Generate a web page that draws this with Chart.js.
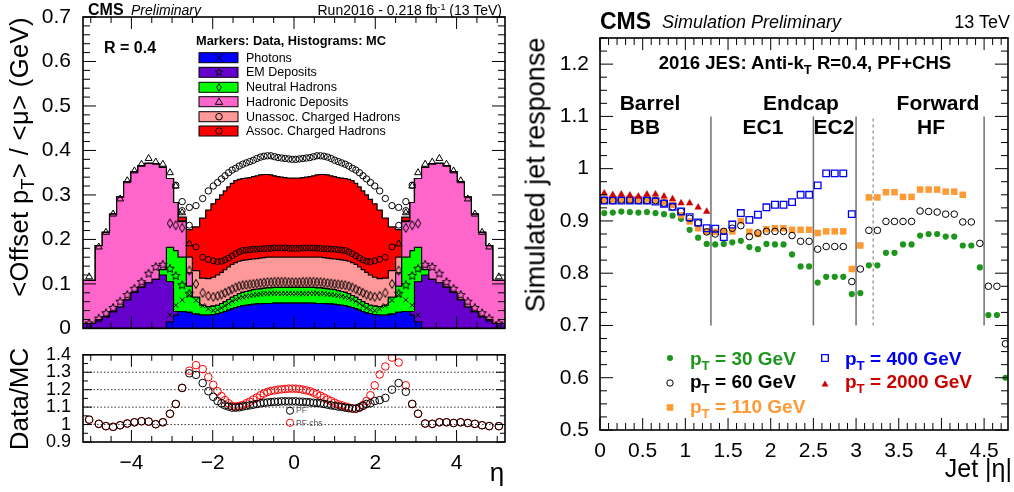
<!DOCTYPE html>
<html>
<head>
<meta charset="utf-8">
<script src="https://cdn.jsdelivr.net/npm/chart.js@4.4.1/dist/chart.umd.min.js"></script>
<style>
body { margin:0; width:1014px; height:492px; position:relative; overflow:hidden; background:#fff;
       font-family:"Liberation Sans", Arial, Helvetica, sans-serif; }
canvas { position:absolute; }
.t { position:absolute; white-space:nowrap; line-height:1; color:#000; }
.c { transform:translateX(-50%); }
.rot { transform:translate(-50%,-50%) rotate(-90deg); }
sub { font-size:0.7em; vertical-align:-0.35em; line-height:0; }
sup { font-size:0.65em; vertical-align:0.55em; line-height:0; }
b { font-weight:bold; }
</style>
</head>
<body>
<canvas id="cOffset" width="520" height="345" style="left:0;top:0"></canvas>
<canvas id="cRatio" width="520" height="152" style="left:0;top:340px"></canvas>
<canvas id="cResp" width="494" height="492" style="left:520px;top:0"></canvas>

<!-- left panel texts -->
<div class="t" style="left:88px;top:1.5px;font-size:16px;font-weight:bold">CMS</div>
<div class="t" style="left:131px;top:3.2px;font-size:14px;font-style:italic">Preliminary</div>
<div class="t" style="right:512px;top:3.2px;font-size:14px">Run2016 - 0.218 fb<sup>-1</sup> (13 TeV)</div>
<div class="t" style="left:104px;top:39.5px;font-size:16px;font-weight:bold">R = 0.4</div>
<div class="t" style="left:196px;top:35.2px;font-size:12.8px;font-weight:bold">Markers: Data, Histograms: MC</div>
<div class="t" style="left:246px;top:51.6px;font-size:12.5px">Photons</div>
<div class="t" style="left:246px;top:66.2px;font-size:12.5px">EM Deposits</div>
<div class="t" style="left:246px;top:81.2px;font-size:12.5px">Neutral Hadrons</div>
<div class="t" style="left:246px;top:95.6px;font-size:12.5px">Hadronic Deposits</div>
<div class="t" style="left:246px;top:110.6px;font-size:12.5px">Unassoc. Charged Hadrons</div>
<div class="t" style="left:246px;top:124.9px;font-size:12.5px">Assoc. Charged Hadrons</div>
<div class="t rot" style="left:20px;top:157px;font-size:25.5px;letter-spacing:0.4px">&lt;Offset p<sub>T</sub>&gt; / &lt;&mu;&gt; (GeV)</div>
<div class="t rot" style="left:19px;top:399px;font-size:26px">Data/MC</div>
<div class="t c" style="left:497px;top:459px;font-size:26px">&eta;</div>
<div class="t" style="left:296px;top:405.8px;font-size:8.5px;color:#555">PF</div>
<div class="t" style="left:296px;top:418.8px;font-size:8.5px;color:#555">PF chs</div>

<!-- right panel texts -->
<div class="t" style="left:600px;top:9.5px;font-size:23px;font-weight:bold">CMS</div>
<div class="t" style="left:662px;top:13.3px;font-size:18px;font-style:italic">Simulation Preliminary</div>
<div class="t" style="right:4px;top:13.3px;font-size:18px">13 TeV</div>
<div class="t c" style="left:805px;top:54.3px;font-size:18.6px;font-weight:bold">2016 JES: Anti-k<sub>T</sub> R=0.4, PF+CHS</div>
<div class="t c" style="left:650px;top:92.2px;font-size:21px;font-weight:bold">Barrel</div>
<div class="t c" style="left:801px;top:92.2px;font-size:21px;font-weight:bold">Endcap</div>
<div class="t c" style="left:938px;top:92.2px;font-size:21px;font-weight:bold">Forward</div>
<div class="t c" style="left:645px;top:116.2px;font-size:21px;font-weight:bold">BB</div>
<div class="t c" style="left:763px;top:116.2px;font-size:21px;font-weight:bold">EC1</div>
<div class="t c" style="left:834px;top:116.2px;font-size:21px;font-weight:bold">EC2</div>
<div class="t c" style="left:931px;top:116.2px;font-size:21px;font-weight:bold">HF</div>
<div class="t rot" style="left:535.6px;top:175px;font-size:27px">Simulated jet response</div>
<div class="t" style="right:2px;top:455.8px;font-size:25px">Jet |&eta;|</div>
<div class="t" style="left:690px;top:348.9px;font-size:19px;font-weight:bold;color:#1e961e">p<sub>T</sub> = 30 GeV</div>
<div class="t" style="left:690px;top:372.2px;font-size:19px;font-weight:bold;color:#000">p<sub>T</sub> = 60 GeV</div>
<div class="t" style="left:690px;top:397.2px;font-size:19px;font-weight:bold;color:#ff9933">p<sub>T</sub> = 110 GeV</div>
<div class="t" style="left:845px;top:348.9px;font-size:19px;font-weight:bold;color:#0000f0">p<sub>T</sub> = 400 GeV</div>
<div class="t" style="left:845px;top:372.2px;font-size:19px;font-weight:bold;color:#cc0000">p<sub>T</sub> = 2000 GeV</div>

<script>
// ---- eta binning (calorimeter towers) ----
const etaEdges = [-5.191,-4.889,-4.716,-4.538,-4.363,-4.191,-4.013,-3.839,-3.664,-3.489,-3.314,-3.139,-2.964,-2.853,-2.65,-2.5,-2.322,-2.172,-2.043,-1.93,-1.83,-1.74,-1.653,-1.566,-1.479,-1.392,-1.305,-1.218,-1.131,-1.044,-0.957,-0.87,-0.783,-0.696,-0.609,-0.522,-0.435,-0.348,-0.261,-0.174,-0.087,0,
  0.087,0.174,0.261,0.348,0.435,0.522,0.609,0.696,0.783,0.87,0.957,1.044,1.131,1.218,1.305,1.392,1.479,1.566,1.653,1.74,1.83,1.93,2.043,2.172,2.322,2.5,2.65,2.853,2.964,3.139,3.314,3.489,3.664,3.839,4.013,4.191,4.363,4.538,4.716,4.889,5.191];

// ---- MC offset per component (GeV), one value per eta bin ----
const mcPhotons = [0,0,0,0,0,0,0,0,0,0,0,.015,.030,.038,.036,.032,.030,.030,.031,.033,.035,.038,.041,.044,.047,.049,.051,.052,.053,.054,.055,.055,.056,.056,.056,.057,.057,.057,.057,.057,.057,
  .057,.057,.057,.057,.057,.057,.056,.056,.056,.055,.055,.054,.053,.052,.051,.049,.047,.044,.041,.038,.035,.033,.031,.030,.030,.032,.036,.038,.030,.015,0,0,0,0,0,0,0,0,0,0,0];
const mcEmDeposits = [.011,.019,.026,.037,.048,.064,.081,.093,.103,.110,.120,.090,.008,0,0,0,0,0,0,0,0,0,0,0,0,0,0,0,0,0,0,0,0,0,0,0,0,0,0,0,0,
  0,0,0,0,0,0,0,0,0,0,0,0,0,0,0,0,0,0,0,0,0,0,0,0,0,0,0,0,.008,.090,.120,.110,.103,.093,.081,.064,.048,.037,.026,.019,.011];
const mcNeutralHadrons = [0,0,0,0,0,0,0,0,0,0,.012,.077,.137,.122,.059,.038,.022,.019,.019,.019,.021,.022,.024,.026,.027,.029,.030,.031,.032,.033,.033,.034,.034,.035,.035,.035,.035,.035,.035,.035,.035,
  .035,.035,.035,.035,.035,.035,.035,.035,.034,.034,.033,.033,.032,.031,.030,.029,.027,.026,.024,.022,.021,.019,.019,.019,.022,.038,.059,.122,.137,.077,.012,0,0,0,0,0,0,0,0,0,0];
const mcHadronicDeposits = [.097,.167,.190,.220,.247,.266,.271,.273,.268,.260,.230,.155,.108,.080,.030,0,0,0,0,0,0,0,0,0,0,0,0,0,0,0,0,0,0,0,0,0,0,0,0,0,0,
  0,0,0,0,0,0,0,0,0,0,0,0,0,0,0,0,0,0,0,0,0,0,0,0,0,0,.030,.080,.108,.155,.230,.260,.268,.273,.271,.266,.247,.220,.190,.167,.097];
const mcUnassocCharged = [0,0,0,0,0,0,0,0,0,0,0,0,0,.002,.035,.060,.061,.063,.065,.068,.070,.072,.073,.074,.074,.073,.072,.071,.070,.069,.069,.069,.069,.069,.069,.068,.068,.068,.068,.068,.068,
  .068,.068,.068,.068,.068,.068,.069,.069,.069,.069,.069,.069,.070,.071,.072,.073,.074,.074,.073,.072,.070,.068,.065,.063,.061,.060,.035,.002,0,0,0,0,0,0,0,0,0,0,0,0,0];
const mcAssocCharged = [0,0,0,0,0,0,0,0,0,0,0,0,0,.008,.062,.098,.135,.154,.165,.170,.174,.177,.180,.182,.184,.184,.184,.184,.184,.185,.186,.187,.187,.186,.185,.183,.181,.180,.179,.178,.178,
  .178,.178,.179,.180,.181,.183,.185,.186,.187,.187,.186,.185,.184,.184,.184,.184,.184,.182,.180,.177,.174,.170,.165,.154,.135,.098,.062,.008,0,0,0,0,0,0,0,0,0,0,0,0,0];

// ---- data offset per component (GeV) ----
const dataPhotons = [0,0,0,0,0,0,0,0,0,0,0,.030,.052,.064,.076,.063,.051,.044,.040,.042,.046,.051,.056,.061,.065,.068,.070,.072,.074,.075,.076,.077,.078,.078,.079,.079,.079,.078,.078,.078,.078,
  .078,.078,.078,.078,.079,.079,.079,.078,.078,.077,.076,.075,.074,.072,.070,.068,.065,.061,.056,.051,.046,.042,.040,.044,.051,.063,.076,.064,.052,.030,0,0,0,0,0,0,0,0,0,0,0];
const dataEmDeposits = [.011,.022,.034,.046,.060,.075,.089,.104,.123,.138,.143,.104,.066,.033,.002,0,0,0,0,0,0,0,0,0,0,0,0,0,0,0,0,0,0,0,0,0,0,0,0,0,0,
  0,0,0,0,0,0,0,0,0,0,0,0,0,0,0,0,0,0,0,0,0,0,0,0,0,0,.002,.033,.066,.104,.143,.138,.123,.104,.089,.075,.060,.046,.034,.022,.011];
const dataNeutralHadrons = [0,0,0,0,0,0,0,0,0,0,0,.102,.114,.129,.052,.037,.029,.029,.031,.031,.030,.029,.028,.027,.027,.027,.027,.026,.025,.025,.025,.025,.025,.026,.025,.026,.026,.027,.027,.026,.026,
  .026,.026,.027,.027,.026,.026,.025,.026,.025,.025,.025,.025,.025,.026,.027,.027,.027,.027,.028,.029,.030,.031,.031,.029,.029,.037,.052,.129,.114,.102,0,0,0,0,0,0,0,0,0,0,0];
const dataHadronicDeposits = [.105,.161,.182,.211,.231,.257,.265,.265,.259,.236,.226,.114,.088,.034,.060,0,0,0,0,0,0,0,0,0,0,0,0,0,0,0,0,0,0,0,0,0,0,0,0,0,0,
  0,0,0,0,0,0,0,0,0,0,0,0,0,0,0,0,0,0,0,0,0,0,0,0,0,0,.060,.034,.088,.114,.226,.236,.259,.265,.265,.257,.231,.211,.182,.161,.105];
const dataUnassocCharged = [0,0,0,0,0,0,0,0,0,0,0,0,0,.005,.042,.083,.080,.082,.081,.077,.075,.074,.074,.075,.076,.077,.078,.078,.078,.078,.077,.077,.076,.076,.076,.076,.076,.076,.076,.076,.076,
  .076,.076,.076,.076,.076,.076,.076,.076,.076,.077,.077,.078,.078,.078,.078,.077,.076,.075,.074,.074,.075,.077,.081,.082,.080,.083,.042,.005,0,0,0,0,0,0,0,0,0,0,0,0,0];
const dataAssocCharged = [0,0,0,0,0,0,0,0,0,0,0,0,.002,.020,.040,.093,.132,.154,.168,.178,.185,.189,.192,.193,.192,.193,.194,.196,.198,.200,.204,.206,.208,.208,.208,.205,.203,.202,.201,.201,.200,
  .200,.201,.201,.202,.203,.205,.208,.208,.208,.206,.204,.200,.198,.196,.194,.193,.192,.193,.192,.189,.185,.178,.168,.154,.132,.093,.040,.020,.002,0,0,0,0,0,0,0,0,0,0,0,0];

// ---- Data/MC ratio ----
const ratioPF = [1.028,1.004,0.991,0.987,0.996,1.006,1.013,1.019,1.017,1.002,1.013,1.062,1.118,1.210,1.294,1.285,1.238,1.191,1.159,1.135,
  1.122,1.110,1.103,1.097,1.097,1.099,1.103,1.107,1.110,1.114,1.118,1.122,1.125,1.127,1.129,1.131,1.131,1.133,1.133,1.133,1.133,
  1.133,1.131,1.131,1.129,1.127,1.125,1.124,1.122,1.118,1.114,1.110,1.107,1.103,1.101,1.097,1.094,1.092,1.092,1.099,
  1.107,1.118,1.122,1.135,1.140,1.153,1.200,1.238,1.188,1.118,1.062,1.006,1.004,1.013,1.013,1.009,1.013,1.009,1.004,0.996,0.991,0.991];
const ratioPFchs = [1.028,1.004,0.991,0.987,0.996,1.006,1.013,1.019,1.017,1.002,1.013,1.062,1.118,1.210,1.309,1.341,1.318,1.272,1.228,1.191,
  1.163,1.140,1.122,1.107,1.103,1.107,1.112,1.122,1.131,1.144,1.155,1.168,1.178,1.187,1.193,1.196,1.200,1.202,1.204,1.206,1.206,
  1.206,1.204,1.200,1.196,1.191,1.183,1.174,1.165,1.155,1.144,1.135,1.125,1.116,1.110,1.103,1.097,1.092,1.090,1.096,
  1.112,1.135,1.168,1.225,1.287,1.333,1.384,1.356,1.225,1.118,1.062,1.006,1.004,1.013,1.013,1.009,1.013,1.009,1.004,0.996,0.991,0.991];

// ---- simulated jet response vs |eta| ----
const respEta = [0.05,0.15,0.25,0.35,0.45,0.55,0.65,0.75,0.85,0.95,1.05,1.15,1.25,1.35,1.45,1.55,1.65,1.75,1.85,1.95,
  2.05,2.15,2.25,2.35,2.45,2.55,2.65,2.75,2.85,2.95,3.05,3.15,3.25,3.35,3.45,3.55,3.65,3.75,3.85,3.95,4.05,4.15,4.25,4.35,4.45,4.55,4.65,4.75];
const resp30 = [.915,.916,.918,.917,.916,.917,.915,.913,.910,.904,.883,.868,.856,.855,.856,.859,.862,.850,.846,.856,
  .855,.855,.836,.813,.813,.782,.793,.793,.793,.760,.762,.815,.815,.839,.839,.855,.855,.872,.875,.875,.870,.870,.853,.853,.811,.720,.720,.600];
const resp60 = [.939,.939,.940,.940,.939,.939,.939,.934,.927,.918,.905,.896,.879,.875,.880,.886,.891,.870,.877,.880,
  .880,.880,.872,.861,.861,.846,.851,.851,.851,.784,.808,.882,.882,.899,.899,.899,.899,.919,.918,.917,.913,.913,.898,.898,.857,.775,.775,.665];
const resp110 = [.940,.941,.941,.940,.940,.941,.940,.936,.931,.911,.899,.886,.880,.879,.880,.880,.900,.879,.875,.884,
  .886,.886,.883,.883,.883,.877,.880,.880,.880,.808,.853,.945,.945,.955,.955,.946,.946,.960,.960,.960,.956,.956,.950];
const resp400 = [.939,.939,.939,.939,.939,.939,.937,.933,.927,.918,.907,.897,.886,.885,.869,.893,.915,.902,.912,.926,
  .931,.931,.936,.950,.950,.968,.991,.991,.991,.913];
const resp2000 = [.953,.950,.951,.949,.947,.951,.951,.947,.942,.934,.934,.926,.918];

const regionEdges = [1.3, 2.5, 3.0, 4.5];
const hfEdge = 3.2;

// ---- style ----
const FONT = "'Liberation Sans', Arial, Helvetica, sans-serif";
const layerColors = ['#0000ff', '#6600cc', '#00ff00', '#ff66cc', '#ff9999', '#ff0000'];
const layerMarkers = ['cross', 'star', 'diamond', 'triangle', 'circle', 'circle'];

function fmt(v) {
  return String(Math.round(v * 1000) / 1000).replace('-', '\u2212');
}

function markerPath(ctx, style, x, y, r) {
  ctx.beginPath();
  if (style === 'cross') {
    ctx.moveTo(x - r, y - r); ctx.lineTo(x + r, y + r);
    ctx.moveTo(x + r, y - r); ctx.lineTo(x - r, y + r);
  } else if (style === 'star') {
    for (let k = 0; k < 10; k++) {
      const rr = k % 2 ? r * 0.45 : r;
      const ang = -Math.PI / 2 + k * Math.PI / 5;
      const px = x + rr * Math.cos(ang), py = y + rr * Math.sin(ang);
      if (k) ctx.lineTo(px, py); else ctx.moveTo(px, py);
    }
    ctx.closePath();
  } else if (style === 'diamond') {
    ctx.moveTo(x, y - r); ctx.lineTo(x + r * 0.6, y); ctx.lineTo(x, y + r); ctx.lineTo(x - r * 0.6, y);
    ctx.closePath();
  } else if (style === 'triangle') {
    ctx.moveTo(x, y - r); ctx.lineTo(x + r * 0.95, y + r * 0.7); ctx.lineTo(x - r * 0.95, y + r * 0.7);
    ctx.closePath();
  } else if (style === 'circle') {
    ctx.arc(x, y, r, 0, Math.PI * 2);
  } else if (style === 'square') {
    ctx.rect(x - r, y - r, 2 * r, 2 * r);
  }
}

function markerImage(style, r) {
  const c = document.createElement('canvas');
  const s = Math.ceil(2 * r + 3);
  c.width = s; c.height = s;
  const g = c.getContext('2d');
  g.strokeStyle = '#000';
  g.lineWidth = 1;
  markerPath(g, style, s / 2, s / 2, r);
  g.stroke();
  return c;
}

// ROOT-like frame with inward ticks on all four sides
const rootAxes = {
  id: 'rootAxes',
  afterDatasetsDraw(chart, args, o) {
    const { ctx, chartArea: a } = chart;
    const x = chart.scales.x, y = chart.scales.y;
    const marks = (scale, major, minor, fn) => {
      const k0 = Math.ceil(scale.min / minor - 1e-6);
      const k1 = Math.floor(scale.max / minor + 1e-6);
      for (let k = k0; k <= k1; k++) {
        const v = k * minor;
        const big = Math.abs(v / major - Math.round(v / major)) < 1e-6;
        fn(scale.getPixelForValue(v), big);
      }
    };
    ctx.save();
    ctx.strokeStyle = '#000';
    ctx.lineWidth = 1;
    ctx.beginPath();
    marks(x, o.x[0], o.x[1], (px, big) => {
      const l = big ? o.xLen[0] : o.xLen[1];
      ctx.moveTo(px, a.bottom); ctx.lineTo(px, a.bottom - l);
      ctx.moveTo(px, a.top); ctx.lineTo(px, a.top + l);
    });
    marks(y, o.y[0], o.y[1], (py, big) => {
      const l = big ? o.yLen[0] : o.yLen[1];
      ctx.moveTo(a.left, py); ctx.lineTo(a.left + l, py);
      ctx.moveTo(a.right, py); ctx.lineTo(a.right - l, py);
    });
    ctx.stroke();
    ctx.lineWidth = 1.6;
    ctx.strokeRect(a.left, a.top, a.right - a.left, a.bottom - a.top);
    ctx.restore();
  }
};
Chart.register(rootAxes);

function yAxis(min, max, ticks, width, size, pad) {
  return {
    min, max,
    afterFit(s) { s.width = width; },
    afterBuildTicks(s) { s.ticks = ticks.map(v => ({ value: v })); },
    grid: { display: false }, border: { display: false },
    ticks: { font: { size, family: FONT }, color: '#000', padding: pad, autoSkip: false, callback: fmt }
  };
}
function xAxis(min, max, ticks, height, size, pad) {
  return {
    type: 'linear', min, max,
    afterFit(s) { s.height = height; },
    afterBuildTicks(s) { s.ticks = ticks.map(v => ({ value: v })); },
    grid: { display: false }, border: { display: false },
    ticks: { font: { size, family: FONT }, color: '#000', padding: pad, maxRotation: 0, autoSkip: false, callback: fmt }
  };
}

// ---- offset composition ----
const nBins = etaEdges.length - 1;
const etaCenters = etaEdges.slice(0, -1).map((e, i) => (e + etaEdges[i + 1]) / 2);
const mcLayers = [mcPhotons, mcEmDeposits, mcNeutralHadrons, mcHadronicDeposits, mcUnassocCharged, mcAssocCharged];
const dataLayers = [dataPhotons, dataEmDeposits, dataNeutralHadrons, dataHadronicDeposits, dataUnassocCharged, dataAssocCharged];

function cumulate(layers) {
  const out = [];
  let run = new Array(nBins).fill(0);
  layers.forEach(l => { run = run.map((v, i) => v + l[i]); out.push(run); });
  return out;
}
const mcStack = cumulate(mcLayers);
const dataStack = cumulate(dataLayers);

function histPoints(vals) {
  const pts = [];
  vals.forEach((v, i) => { pts.push({ x: etaEdges[i], y: v }, { x: etaEdges[i + 1], y: v }); });
  return pts;
}

const histSets = mcStack.map((vals, k) => ({
  type: 'line',
  data: histPoints(vals),
  borderColor: '#000',
  borderWidth: 1.2,
  backgroundColor: layerColors[k],
  fill: k === 0 ? 'origin' : '-1',
  pointRadius: 0,
  tension: 0,
  order: 10
}));

const markerStyles = [
  { pointStyle: 'crossRot', pointRadius: 3.5 },
  { pointStyle: markerImage('star', 4.5), pointRadius: 4 },
  { pointStyle: markerImage('diamond', 4.5), pointRadius: 4 },
  { pointStyle: 'triangle', pointRadius: 4 },
  { pointStyle: 'circle', pointRadius: 3 },
  { pointStyle: 'circle', pointRadius: 3.2 }
];
const markerSets = dataStack.map((vals, k) => Object.assign({
  type: 'line',
  data: etaCenters.map((x, i) => ({ x, y: dataLayers[k][i] > 0 ? vals[i] : null })),
  showLine: false,
  borderColor: '#000',
  backgroundColor: 'rgba(0,0,0,0)',
  pointBorderWidth: 1,
  order: 0
}, markerStyles[k]));

const offsetLegend = {
  id: 'offsetLegend',
  afterDraw(chart) {
    const ctx = chart.ctx;
    const rows = [57.7, 72.3, 87.3, 101.7, 116.7, 131];
    ctx.save();
    rows.forEach((cy, k) => {
      ctx.fillStyle = layerColors[k];
      ctx.fillRect(199, cy - 5, 39, 10);
      ctx.strokeStyle = '#000';
      ctx.lineWidth = 1;
      ctx.strokeRect(199, cy - 5, 39, 10);
      markerPath(ctx, layerMarkers[k], 219, cy, layerMarkers[k] === 'circle' ? 3.3 : 3.8);
      ctx.stroke();
    });
    ctx.restore();
  }
};

new Chart(document.getElementById('cOffset'), {
  type: 'line',
  data: { datasets: [...histSets, ...markerSets] },
  options: {
    responsive: false, animation: false, events: [], devicePixelRatio: 1,
    layout: { padding: { left: 0, right: 15, top: 17, bottom: 15 } },
    plugins: {
      legend: { display: false }, tooltip: { enabled: false },
      rootAxes: { x: [2, 0.5], y: [0.1, 0.02], xLen: [12, 6], yLen: [13, 7] }
    },
    scales: {
      x: { type: 'linear', min: -5.191, max: 5.191, display: false },
      y: yAxis(0, 0.7, [0, 0.1, 0.2, 0.3, 0.4, 0.5, 0.6, 0.7], 83, 21, 4)
    }
  },
  plugins: [offsetLegend]
});

// ---- ratio panel ----
const ratioExtras = {
  id: 'ratioExtras',
  beforeDatasetsDraw(chart) {
    const { ctx, chartArea: a } = chart;
    const y = chart.scales.y;
    ctx.save();
    ctx.strokeStyle = '#000';
    ctx.lineWidth = 0.8;
    ctx.setLineDash([1.5, 2]);
    [1.0, 1.1, 1.2, 1.3].forEach(v => {
      const py = y.getPixelForValue(v);
      ctx.beginPath(); ctx.moveTo(a.left, py); ctx.lineTo(a.right, py); ctx.stroke();
    });
    ctx.restore();
  },
  afterDraw(chart) {
    const ctx = chart.ctx;
    ctx.save();
    ctx.lineWidth = 1;
    ctx.strokeStyle = '#000';
    markerPath(ctx, 'circle', 290, 70.7, 3.6); ctx.stroke();
    ctx.strokeStyle = '#ff0000';
    markerPath(ctx, 'circle', 290, 82.7, 3.6); ctx.stroke();
    ctx.restore();
  }
};

new Chart(document.getElementById('cRatio'), {
  type: 'line',
  data: {
    datasets: [
      { data: etaCenters.map((x, i) => ({ x, y: ratioPF[i] })), showLine: false, pointStyle: 'circle', pointRadius: 3.8,
        borderColor: '#000', backgroundColor: 'rgba(0,0,0,0)', pointBorderWidth: 1 },
      { data: etaCenters.map((x, i) => ({ x, y: ratioPFchs[i] })), showLine: false, pointStyle: 'circle', pointRadius: 3.8,
        borderColor: '#ff0000', backgroundColor: 'rgba(0,0,0,0)', pointBorderWidth: 1 }
    ]
  },
  options: {
    responsive: false, animation: false, events: [], devicePixelRatio: 1,
    layout: { padding: { left: 0, right: 15, top: 14, bottom: 0 } },
    plugins: {
      legend: { display: false }, tooltip: { enabled: false },
      rootAxes: { x: [2, 0.5], y: [0.1, 0.05], xLen: [12, 6], yLen: [9, 5] }
    },
    scales: {
      x: xAxis(-5.191, 5.191, [-4, -2, 0, 2, 4], 50, 21, 1),
      y: yAxis(0.9, 1.4, [0.9, 1.0, 1.1, 1.2, 1.3, 1.4], 83, 18, 4)
    }
  },
  plugins: [ratioExtras]
});

// ---- response panel ----
const green = '#1e961e', orange = '#ff9933', blue = '#0000f0', red = '#cc0000';
const pairs = vals => vals.map((y, i) => ({ x: respEta[i], y }));

const respExtras = {
  id: 'respExtras',
  beforeDatasetsDraw(chart) {
    const { ctx } = chart;
    const x = chart.scales.x, y = chart.scales.y;
    const y0 = y.getPixelForValue(0.7), y1 = y.getPixelForValue(1.1);
    ctx.save();
    ctx.strokeStyle = '#707070';
    ctx.lineWidth = 1.5;
    regionEdges.forEach(v => {
      const px = x.getPixelForValue(v);
      ctx.beginPath(); ctx.moveTo(px, y0); ctx.lineTo(px, y1); ctx.stroke();
    });
    ctx.lineWidth = 1;
    ctx.setLineDash([3, 3]);
    const ph = x.getPixelForValue(hfEdge);
    ctx.beginPath(); ctx.moveTo(ph, y0); ctx.lineTo(ph, y1); ctx.stroke();
    ctx.restore();
  },
  afterDraw(chart) {
    const ctx = chart.ctx;
    ctx.save();
    ctx.lineWidth = 1;
    ctx.fillStyle = green; markerPath(ctx, 'circle', 150, 358, 3); ctx.fill();
    ctx.strokeStyle = '#000'; markerPath(ctx, 'circle', 150, 383, 3.2); ctx.stroke();
    ctx.fillStyle = orange; markerPath(ctx, 'square', 150, 407.5, 3.3); ctx.fill();
    ctx.strokeStyle = blue; ctx.lineWidth = 1.3; markerPath(ctx, 'square', 305, 358, 3.3); ctx.stroke();
    ctx.fillStyle = red; markerPath(ctx, 'triangle', 305, 384, 3.6); ctx.fill();
    ctx.restore();
  }
};

new Chart(document.getElementById('cResp'), {
  type: 'scatter',
  data: {
    datasets: [
      { data: pairs(resp2000), pointStyle: 'triangle', pointRadius: 3.8, backgroundColor: red, borderColor: red, pointBorderWidth: 0.5, order: 0 },
      { data: pairs(resp400), pointStyle: 'rect', pointRadius: 4.7, backgroundColor: 'rgba(0,0,0,0)', borderColor: blue, pointBorderWidth: 1.3, order: 1 },
      { data: pairs(resp60), pointStyle: 'circle', pointRadius: 3.3, backgroundColor: 'rgba(0,0,0,0)', borderColor: '#000', pointBorderWidth: 1, order: 2 },
      { data: pairs(resp110), pointStyle: 'rect', pointRadius: 4.6, backgroundColor: orange, borderColor: orange, pointBorderWidth: 0, order: 3 },
      { data: pairs(resp30), pointStyle: 'circle', pointRadius: 3.1, backgroundColor: green, borderColor: green, pointBorderWidth: 0, order: 4 }
    ]
  },
  options: {
    responsive: false, animation: false, events: [], devicePixelRatio: 1,
    layout: { padding: { left: 0, right: 4, top: 38, bottom: 0 } },
    plugins: {
      legend: { display: false }, tooltip: { enabled: false },
      rootAxes: { x: [0.5, 0.1], y: [0.1, 0.025], xLen: [12, 7], yLen: [13, 7] }
    },
    scales: {
      x: xAxis(0, 4.78, [0, 0.5, 1, 1.5, 2, 2.5, 3, 3.5, 4, 4.5], 62, 21, 1),
      y: yAxis(0.5, 1.25, [0.5, 0.6, 0.7, 0.8, 0.9, 1.0, 1.1, 1.2], 80, 21, 3)
    }
  },
  plugins: [respExtras]
});
</script>
</body>
</html>
